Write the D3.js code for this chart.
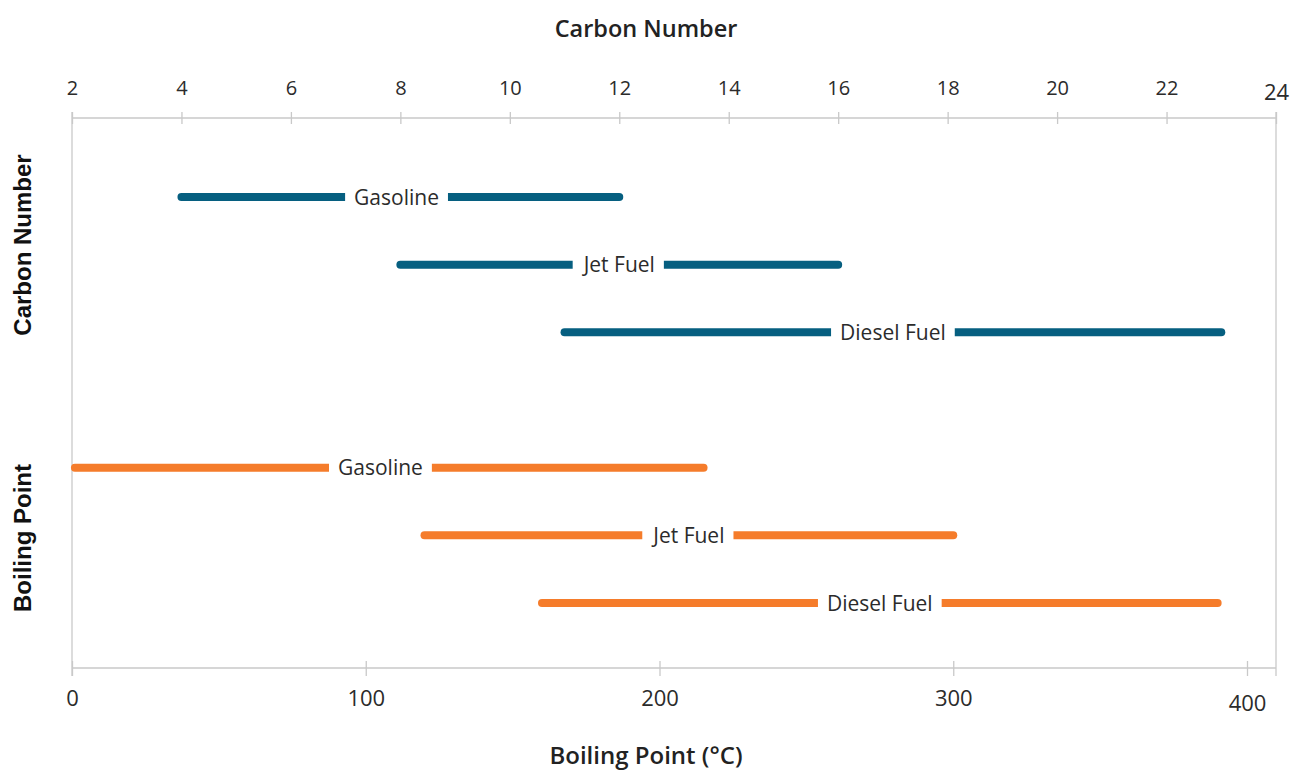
<!DOCTYPE html>
<html>
<head>
<meta charset="utf-8">
<script src="https://cdn.jsdelivr.net/npm/d3@7"></script>
<style>
  html, body { margin: 0; padding: 0; background: #fff; }
  svg { display: block; }
</style>
</head>
<body>
<svg id="chart" width="1292" height="773"></svg>
<script>
// ---- data ----
const categories = ["Gasoline", "Jet Fuel", "Diesel Fuel"];
const carbonStart = [4, 8, 11];
const carbonEnd = [12, 16, 23];
const carbonLabelAt = [7.93, 12, 17];
const boilStart = [1, 120, 160];
const boilEnd = [215, 300, 390];
const boilLabelAt = [105, 210, 275];
const carbonTicks = [2, 4, 6, 8, 10, 12, 14, 16, 18, 20, 22, 24];
const boilTicks = [0, 100, 200, 300, 400];
const rowKeys = ["cn-0", "cn-1", "cn-2", "gap", "bp-0", "bp-1", "bp-2"];

// ---- layout ----
const W = 1292, H = 773;
const plotL = 72, plotR = 1276, plotT = 118, plotB = 668;
const blue = "#065f80", orange = "#f57c2b", axisCol = "#c9c9c9", txt = "#2b2b2b";
const labelFont = "'Open Sans', sans-serif";

const svg = d3.select("#chart");

const xTop = d3.scaleLinear().domain([2, 24]).range([plotL, plotR]);
const xBot = d3.scaleLinear().domain([0, 400]).range([plotL, 1247]);
const y = d3.scalePoint().domain(rowKeys).range([197, 603]);

// frame lines
const g = svg.append("g");
g.append("line").attr("x1", plotL).attr("x2", plotR).attr("y1", plotT).attr("y2", plotT).attr("stroke", axisCol).attr("stroke-width", 1.3);
g.append("line").attr("x1", plotL).attr("x2", plotR).attr("y1", plotB).attr("y2", plotB).attr("stroke", axisCol).attr("stroke-width", 1.3);
g.append("line").attr("x1", plotL).attr("x2", plotL).attr("y1", plotT - 6).attr("y2", plotB + 8).attr("stroke", axisCol).attr("stroke-width", 1.3);
g.append("line").attr("x1", plotR).attr("x2", plotR).attr("y1", plotT - 6).attr("y2", plotB + 8).attr("stroke", axisCol).attr("stroke-width", 1.3);

// top axis
const topAxis = svg.append("g").attr("transform", `translate(0,${plotT})`)
  .call(d3.axisTop(xTop).tickValues(carbonTicks).tickSize(6).tickPadding(0).tickFormat(d3.format("d")));
topAxis.select(".domain").remove();
topAxis.selectAll(".tick line").attr("y1", -6).attr("y2", 6).attr("stroke", axisCol).attr("stroke-width", 1.3);
topAxis.selectAll(".tick text")
  .attr("y", (d) => d === 24 ? -26 : -30)
  .attr("dy", "0.35em")
  .attr("fill", txt)
  .style("font-family", labelFont)
  .style("font-size", (d) => d === 24 ? "22px" : "20px");

// bottom axis
const botAxis = svg.append("g").attr("transform", `translate(0,${plotB})`)
  .call(d3.axisBottom(xBot).tickValues(boilTicks).tickSize(8).tickPadding(0).tickFormat(d3.format("d")));
botAxis.select(".domain").remove();
botAxis.selectAll(".tick line").attr("y1", -7).attr("y2", 8).attr("stroke", axisCol).attr("stroke-width", 1.3);
botAxis.selectAll(".tick text")
  .attr("y", (d) => d === 400 ? 35 : 30)
  .attr("dy", "0.35em")
  .attr("fill", txt)
  .style("font-family", labelFont)
  .style("font-size", "22px");

// bars
function drawRange(x, start, end, labelAt, color, prefix) {
  categories.forEach((c, i) => {
    const yy = y(prefix + i);
    const gg = svg.append("g");
    gg.append("line")
      .attr("x1", x(start[i])).attr("x2", x(end[i]))
      .attr("y1", yy).attr("y2", yy)
      .attr("stroke", color).attr("stroke-width", 8).attr("stroke-linecap", "round");
    const t = gg.append("text")
      .attr("x", x(labelAt[i])).attr("y", yy)
      .attr("dy", "0.36em")
      .attr("text-anchor", "middle")
      .attr("fill", txt)
      .style("font-family", labelFont)
      .style("font-size", "21px")
      .text(c);
    const bb = t.node().getBBox();
    gg.insert("rect", "text")
      .attr("x", bb.x - 9).attr("width", bb.width + 18)
      .attr("y", yy - 7).attr("height", 14)
      .attr("fill", "#fff");
  });
}
drawRange(xTop, carbonStart, carbonEnd, carbonLabelAt, blue, "cn-");
drawRange(xBot, boilStart, boilEnd, boilLabelAt, orange, "bp-");

// titles
svg.append("text").attr("x", W / 2).attr("y", 29).attr("dy", "0.35em")
  .attr("text-anchor", "middle").attr("fill", "#222")
  .style("font-family", labelFont).style("font-size", "23.5px").style("font-weight", 600)
  .text("Carbon Number");
svg.append("text").attr("x", W / 2).attr("y", 756).attr("dy", "0.35em")
  .attr("text-anchor", "middle").attr("fill", "#222")
  .style("font-family", labelFont).style("font-size", "24px").style("font-weight", 600)
  .text("Boiling Point (°C)");

// side group labels
[["Carbon Number", 245], ["Boiling Point", 538]].forEach(([t, cy]) => {
  svg.append("text")
    .attr("transform", `translate(23,${cy}) rotate(-90)`)
    .attr("dy", "0.35em")
    .attr("text-anchor", "middle").attr("fill", "#111")
    .style("font-family", "'Liberation Sans', Arial, sans-serif")
    .style("font-size", "24px").style("font-weight", "bold")
    .text(t);
});
</script>
</body>
</html>
